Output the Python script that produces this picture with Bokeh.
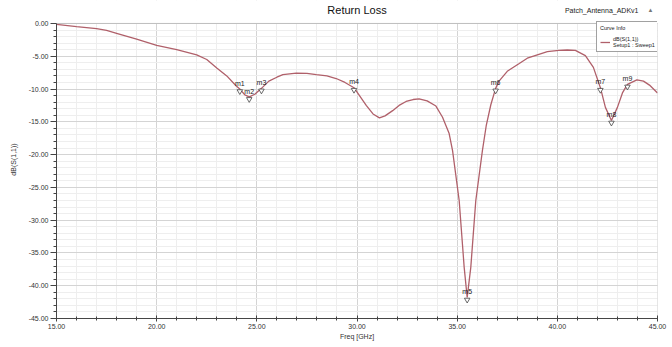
from bokeh.plotting import figure
from bokeh.models import (Range1d, FixedTicker, PrintfTickFormatter, Label, Legend, LegendItem,
                          BoxAnnotation)
from bokeh.core.properties import value
from bokeh.embed import file_html
from bokeh.resources import INLINE

# ---- data ----
freq_ghz = [15.0, 16.0, 17.0, 17.5, 18.0, 19.0, 20.0, 21.0, 22.0, 22.5, 23.0, 23.5, 23.96,
            24.15, 24.4, 24.62, 24.9, 25.23, 25.6, 26.0, 26.3, 26.97, 27.5, 27.97, 28.5,
            28.96, 29.4, 29.85, 30.46, 30.8, 31.12, 31.4, 31.78, 32.1, 32.45, 32.8, 33.1,
            33.5, 33.94, 34.27, 34.6, 34.77, 35.1, 35.35, 35.5, 35.68, 35.93, 36.26, 36.45,
            36.68, 36.92, 37.09, 37.5, 38.08, 38.5, 39.08, 39.5, 40.07, 40.5, 40.9, 41.4,
            41.8, 42.15, 42.4, 42.7, 43.0, 43.25, 43.5, 43.97, 44.3, 44.6, 45.0]
s11_db = [-0.15, -0.5, -0.8, -1.07, -1.5, -2.4, -3.35, -4.0, -4.8, -5.5, -6.8, -8.0, -9.5,
          -10.0, -10.9, -11.2, -10.8, -9.9, -8.8, -8.2, -7.8, -7.57, -7.6, -7.8, -8.0,
          -8.4, -9.0, -9.8, -12.5, -13.8, -14.4, -14.1, -13.3, -12.5, -11.9, -11.6, -11.5,
          -11.8, -12.6, -14.3, -16.8, -19.4, -27.0, -37.2, -41.8, -37.2, -27.0, -19.4, -15.6,
          -12.4, -9.9, -8.8, -7.3, -6.15, -5.3, -4.7, -4.3, -4.1, -4.05, -4.1, -4.9,
          -6.7, -9.8, -12.8, -14.8, -12.8, -10.6, -9.3, -8.6, -8.8, -9.4, -10.6]

marker_names = ["m1", "m2", "m3", "m4", "m5", "m6", "m7", "m8", "m9"]
marker_freq = [24.15, 24.62, 25.23, 29.85, 35.5, 36.92, 42.15, 42.7, 43.5]
marker_db = [-10.0, -11.2, -9.9, -9.8, -41.8, -9.9, -9.8, -14.8, -9.3]

x_ticks = [15, 20, 25, 30, 35, 40, 45]
y_ticks = [0, -5, -10, -15, -20, -25, -30, -35, -40, -45]

FONT = "Liberation Sans"
INK = "#333333"

# the frame reaches up into the title band so the header texts can sit there
p = figure(width=672, height=347, output_backend="svg", toolbar_location=None,
           x_range=Range1d(15, 45), y_range=Range1d(-45, 3.5),
           min_border_left=56, min_border_right=15, min_border_top=0, min_border_bottom=29)
p.background_fill_color = "white"
p.border_fill_color = "white"
p.outline_line_color = None

line = p.line(freq_ghz, s11_db, line_color="#b0606a", line_width=1.3)

p.scatter(marker_freq, [d - 0.35 for d in marker_db], marker="inverted_triangle", size=5.5,
          fill_color="white", line_color="#444444", line_width=0.8)
p.text(marker_freq, [d + 0.35 for d in marker_db], text=marker_names, text_font=value(FONT),
       text_font_size="7px", text_color="#222222", text_align="center", text_baseline="bottom")

# axes
p.xaxis.ticker = FixedTicker(ticks=x_ticks, minor_ticks=list(range(15, 46)))
p.yaxis.ticker = FixedTicker(ticks=y_ticks, minor_ticks=list(range(-45, 1)))
p.xaxis.formatter = PrintfTickFormatter(format="%.2f")
p.yaxis.formatter = PrintfTickFormatter(format="%.2f")
for ax in (p.xaxis, p.yaxis):
    ax.major_label_text_font = FONT
    ax.major_label_text_font_size = "7px"
    ax.major_label_text_color = INK
    ax.axis_label_text_font = FONT
    ax.axis_label_text_font_size = "7px"
    ax.axis_label_text_font_style = "normal"
    ax.axis_label_text_color = INK
    ax.axis_line_color = "#444444"
    ax.major_tick_line_color = "#444444"
    ax.minor_tick_line_color = "#444444"
    ax.major_label_standoff = 2
p.yaxis.bounds = (y_ticks[-1], y_ticks[0])
p.xaxis.axis_label = "Freq [GHz]"
p.yaxis.axis_label = "dB(S(1,1))"
p.xaxis.axis_label_standoff = 1
p.yaxis.axis_label_standoff = 9
p.yaxis.major_tick_out = 6
p.yaxis.major_tick_in = 0
p.yaxis.minor_tick_out = 3
p.yaxis.minor_tick_in = 0
p.xaxis.major_tick_out = 3
p.xaxis.major_tick_in = 3
p.xaxis.minor_tick_out = 2
p.xaxis.minor_tick_in = 2

p.xgrid.grid_line_color = "#d4d4d4"
p.ygrid.grid_line_color = "#d4d4d4"
p.xgrid.minor_grid_line_color = "#eeeeee"
p.ygrid.minor_grid_line_color = "#eeeeee"

# blank band above 0 dB (title area) and the plot border
p.add_layout(BoxAnnotation(bottom=y_ticks[0], fill_color="white", fill_alpha=1.0,
                           line_alpha=0))
p.add_layout(BoxAnnotation(left=x_ticks[0], right=x_ticks[-1], top=y_ticks[0],
                           bottom=y_ticks[-1], fill_alpha=0, line_color="#555555",
                           line_width=1))

# title & project name
p.add_layout(Label(x=30, y=2.0, text="Return Loss", text_font=FONT, text_font_size="11px",
                   text_color="#111111", text_align="center", text_baseline="middle"))
p.add_layout(Label(x=44.05, y=2.0, text="Patch_Antenna_ADKv1", text_font=FONT,
                   text_font_size="7px", text_color="#222222", text_align="right",
                   text_baseline="middle"))
p.add_layout(Label(x=44.65, y=2.0, text="▲", text_font=FONT, text_font_size="6px",
                   text_color="#777777", text_align="center", text_baseline="middle"))

legend = Legend(items=[LegendItem(label="dB(S(1,1))\nSetup1 : Sweep1", renderers=[line])],
                title="Curve Info", location=(540, 266),
                label_text_font=FONT, label_text_font_size="5.5px", label_text_color="#222222",
                title_text_font=FONT, title_text_font_size="5.5px",
                title_text_font_style="normal", title_text_color="#222222",
                border_line_color="#444444", border_line_width=1,
                background_fill_alpha=1.0, padding=3, spacing=0, margin=0,
                glyph_width=10, glyph_height=6, label_standoff=3, label_height=6)
p.add_layout(legend)

open("out.html", "w").write(file_html(p, INLINE))
